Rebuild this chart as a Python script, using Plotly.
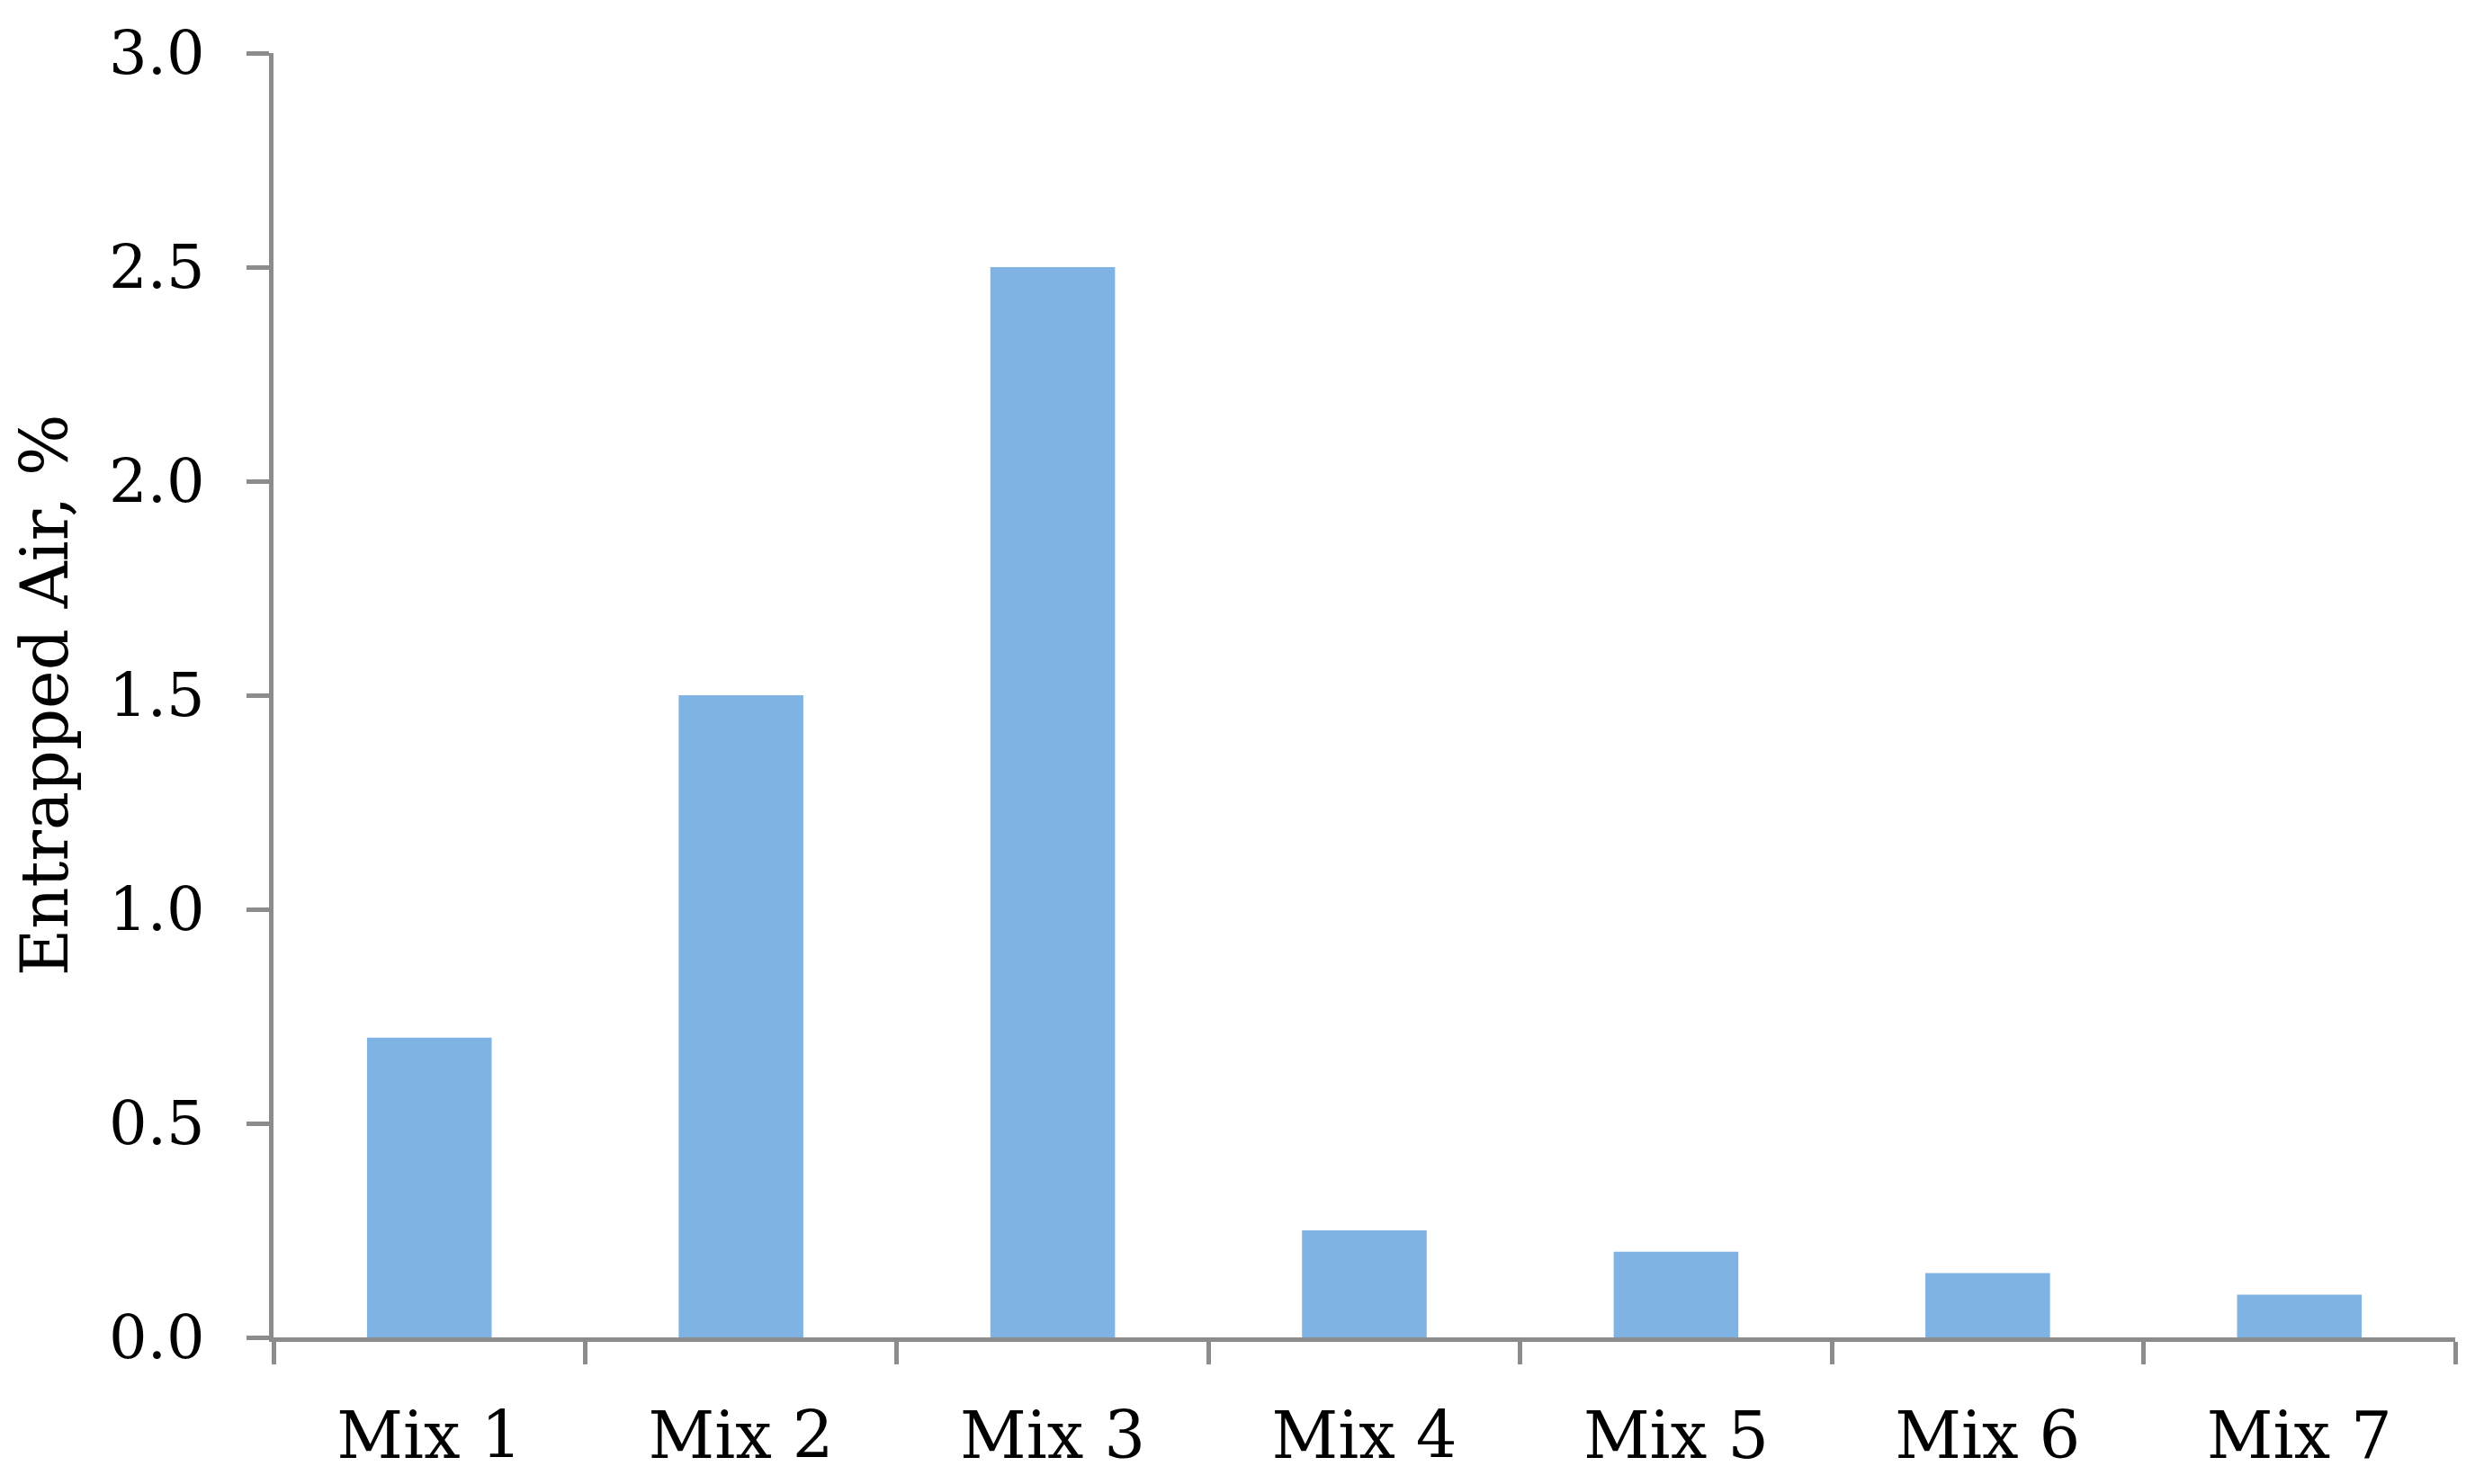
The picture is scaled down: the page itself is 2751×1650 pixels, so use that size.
import plotly.graph_objects as go

mixes = ["Mix 1", "Mix 2", "Mix 3", "Mix 4", "Mix 5", "Mix 6", "Mix 7"]
entrapped_air = [0.7, 1.5, 2.5, 0.25, 0.2, 0.15, 0.1]
y_ticks = [0.0, 0.5, 1.0, 1.5, 2.0, 2.5, 3.0]

font_name = "DejaVu Serif"
axis_grey = "#8c8c8c"

fig = go.Figure(go.Bar(x=mixes, y=entrapped_air, marker=dict(color="#7fb3e3", line=dict(width=0))))

# the page body adds 8px, margins allow for that
fig.update_layout(
    width=2751, height=1650,
    paper_bgcolor="white", plot_bgcolor="white",
    margin=dict(l=296, r=30, t=42, b=171),
    bargap=0.6,
    showlegend=False,
    font=dict(family=font_name, color="black", size=66),
)
fig.update_xaxes(
    type="category",
    tickson="boundaries",
    showline=True, linecolor=axis_grey, linewidth=5,
    ticks="outside", ticklen=25, tickwidth=5, tickcolor=axis_grey,
    ticklabelstandoff=43,
    showgrid=False,
    tickfont=dict(family=font_name, size=72),
)
fig.update_yaxes(
    range=[0, 3], tickvals=y_ticks, tickformat=".1f",
    showline=True, linecolor=axis_grey, linewidth=5,
    ticks="outside", ticklen=25, tickwidth=5, tickcolor=axis_grey,
    ticklabelstandoff=33,
    showgrid=False, zeroline=False,
    tickfont=dict(family=font_name, size=67),
    title=dict(text="Entrapped Air, %", standoff=33, font=dict(family=font_name, size=72)),
)

fig.write_html("out.html")
